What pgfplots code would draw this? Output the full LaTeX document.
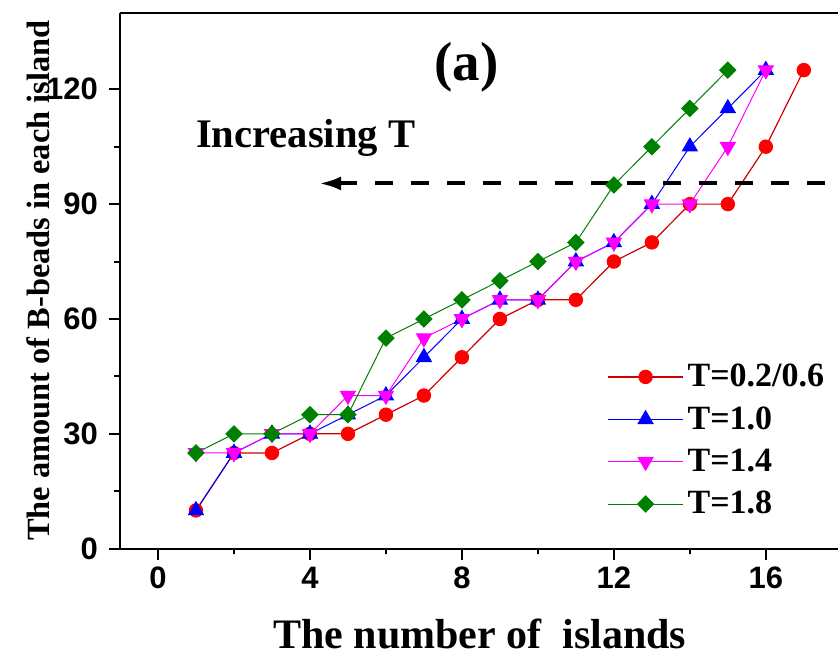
\documentclass[border=0pt]{standalone}
\usepackage{fontspec}
\setmainfont{Liberation Serif}
\setsansfont{Liberation Sans}
\usepackage{pgfplots}
\pgfplotsset{compat=1.18}
\usetikzlibrary{arrows.meta}

\definecolor{lred}{RGB}{204,0,0}
\definecolor{mred}{RGB}{255,0,0}
\definecolor{lblue}{RGB}{0,0,255}
\definecolor{lmag}{RGB}{255,0,255}
\definecolor{lgreen}{RGB}{0,128,0}

\begin{document}
\begin{tikzpicture}
\begin{axis}[
  scale only axis,
  width=359pt, height=268pt,
  xmin=-1, xmax=17.9,
  ymin=0, ymax=140,
  axis x line*=bottom,
  axis y line*=left,
  axis line style={line width=1pt},
  xtick={0,4,8,12,16},
  ytick={0,30,60,90,120},
  minor x tick num=1,
  minor y tick num=1,
  tick align=outside,
  major tick length=5.5pt,
  minor tick length=2.8pt,
  every tick/.style={line width=1pt, black},
  /pgf/number format/assume math mode=true,
  ticklabel style={font=\sffamily\bfseries\fontsize{15.5}{18}\selectfont},
  yticklabel style={xshift=-2pt},
  xlabel={The number of\ \ islands},
  ylabel={The amount of B-beads in each island},
  xlabel style={font=\bfseries\fontsize{21}{24}\selectfont, anchor=base, at={(axis description cs:0.501,-0.186)}},
  ylabel style={font=\bfseries\fontsize{16.2}{19}\selectfont, anchor=base, at={(axis description cs:-0.0975,0.5)}},
  legend cell align=left,
  legend style={draw=none, fill=none, at={(0.67,0.36)}, anchor=north west,
    font=\bfseries\fontsize{17}{19}\selectfont, row sep=4.4pt},
  legend image code/.code={\draw[mark repeat=2,mark phase=2,#1] plot coordinates {(0pt,0pt) (18.75pt,0pt) (37.5pt,0pt)};},
]
\addplot[lred, line width=0.6pt, mark=*, mark size=3.3pt, mark options={fill=mred, draw=mred}] coordinates {
(1,10) (2,25) (3,25) (4,30) (5,30) (6,35) (7,40) (8,50) (9,60) (10,65) (11,65) (12,75) (13,80) (14,90) (15,90) (16,105) (17,125)
};
\addlegendentry{T=0.2/0.6}
\addplot[lblue, line width=0.5pt, mark=triangle*, mark size=4.3pt, mark options={fill=lblue, draw=lblue}] coordinates {
(1,10) (2,25) (3,30) (4,30) (5,35) (6,40) (7,50) (8,60) (9,65) (10,65) (11,75) (12,80) (13,90) (14,105) (15,115) (16,125)
};
\addlegendentry{T=1.0}
\addplot[lmag, line width=0.5pt, mark=triangle*, mark size=4.3pt, mark options={fill=lmag, draw=lmag, rotate=180}] coordinates {
(1,25) (2,25) (3,30) (4,30) (5,40) (6,40) (7,55) (8,60) (9,65) (10,65) (11,75) (12,80) (13,90) (14,90) (15,105) (16,125)
};
\addlegendentry{T=1.4}
\addplot[lgreen, line width=0.5pt, mark=square*, mark size=2.85pt, mark options={fill=lgreen, draw=lgreen, rotate=45}] coordinates {
(1,25) (2,30) (3,30) (4,35) (5,35) (6,55) (7,60) (8,65) (9,70) (10,75) (11,80) (12,95) (13,105) (14,115) (15,125)
};
\addlegendentry{T=1.8}
\draw[line width=1pt] (rel axis cs:0,1) -- (rel axis cs:1,1);
\draw[line width=2pt, dash pattern=on 9pt off 9pt, {Latex[length=11pt,width=7pt]}-] (axis cs:4.24,95.4) -- (axis cs:17.8,95.4);
\node[font=\bfseries\fontsize{20.3}{24}\selectfont, anchor=base] at (axis cs:3.89,104.7) {Increasing T};
\node[font=\bfseries\fontsize{27.5}{30}\selectfont, anchor=base] at (axis cs:8.12,122.4) {(a)};
\coordinate (bl) at (rel axis cs:0,0);
\end{axis}
\pgfresetboundingbox
\path[use as bounding box] ([shift={(-60pt,-54pt)}]bl) rectangle ([shift={(359pt,274.35pt)}]bl);
\end{tikzpicture}
\end{document}
